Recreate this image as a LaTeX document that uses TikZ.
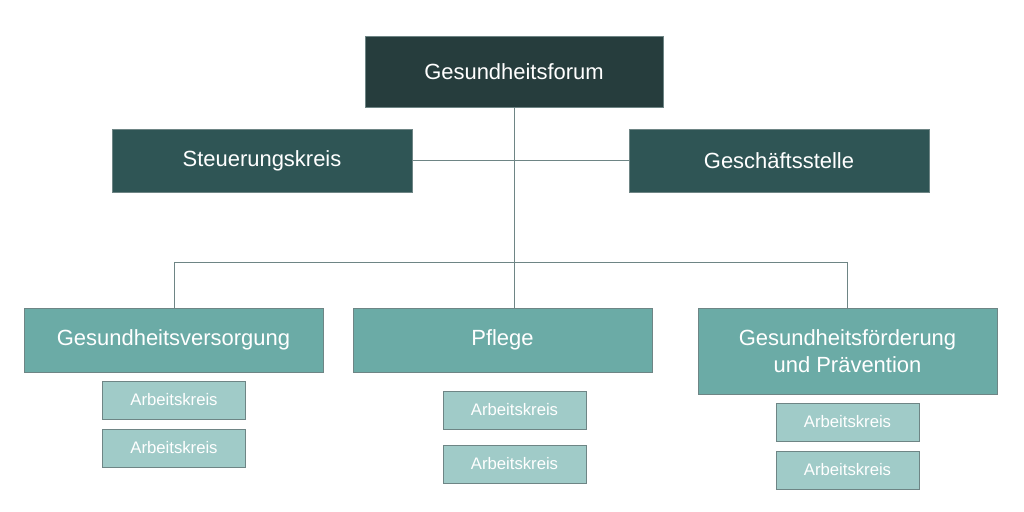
\documentclass[tikz,border=0pt]{standalone}
\usepackage{fontspec}
\setmainfont{Liberation Sans}
\usetikzlibrary{positioning}
\definecolor{topdark}{HTML}{263D3D}
\definecolor{middark}{HTML}{2F5555}
\definecolor{teal}{HTML}{6BABA6}
\definecolor{lightteal}{HTML}{A0CBC8}
\definecolor{edgegray}{HTML}{6E8585}
\begin{document}
\begin{tikzpicture}[x=0.2mm, y=-0.2mm,
        % Define common styles for nodes
        head/.style={rectangle, draw=edgegray, fill=topdark, text=white, minimum width=59.6mm, minimum height=14.2mm, font=\fontsize{12.5}{15}\selectfont},
        staff/.style={rectangle, draw=edgegray, fill=middark, text=white, minimum width=60mm, minimum height=12.6mm, font=\fontsize{12.5}{15}\selectfont},
        area/.style={rectangle, draw=edgegray, fill=teal, text=white, minimum width=59.8mm, minimum height=12.8mm, align=center, font=\fontsize{12.5}{15}\selectfont},
        work/.style={rectangle, draw=edgegray, fill=lightteal, text=white, minimum width=28.6mm, minimum height=7.6mm, font=\fontsize{9.5}{11}\selectfont},
        line/.style={draw=edgegray, thin},
    ]
    \useasboundingbox (0,0) rectangle (1024,512);

    % Top level
    \node (forum) [head] at (514,71.5) {Gesundheitsforum};
    \node (steuerung) [staff] at (262,160.5) {Steuerungskreis};
    \node (geschaeft) [staff] at (779,160.5) {Geschäftsstelle};

    % Areas
    \node (versorgung) [area] at (173.5,340) {Gesundheitsversorgung};
    \node (pflege) [area] at (502.5,340) {Pflege};
    \node (foerderung) [area, minimum height=17.2mm] at (847.5,351) {Gesundheitsförderung\\und Prävention};

    % Working groups
    \node (ak_v1) [work] at (174,400) {Arbeitskreis};
    \node (ak_v2) [work] at (174,448) {Arbeitskreis};
    \node (ak_p1) [work] at (514.5,410) {Arbeitskreis};
    \node (ak_p2) [work] at (514.5,464) {Arbeitskreis};
    \node (ak_f1) [work] at (847.5,422) {Arbeitskreis};
    \node (ak_f2) [work] at (847.5,470) {Arbeitskreis};

    % Connections
    \coordinate (bus) at (514,262);
    \draw[line] (forum.south) -- (pflege.north -| forum.south);
    \draw[line] (steuerung.east) -- (geschaeft.west);
    \draw[line] (bus -| ak_v1.north) -- (bus -| ak_f1.north);
    \draw[line] (bus -| ak_v1.north) -- (versorgung.north -| ak_v1.north);
    \draw[line] (bus -| ak_f1.north) -- (foerderung.north -| ak_f1.north);
\end{tikzpicture}
\end{document}
